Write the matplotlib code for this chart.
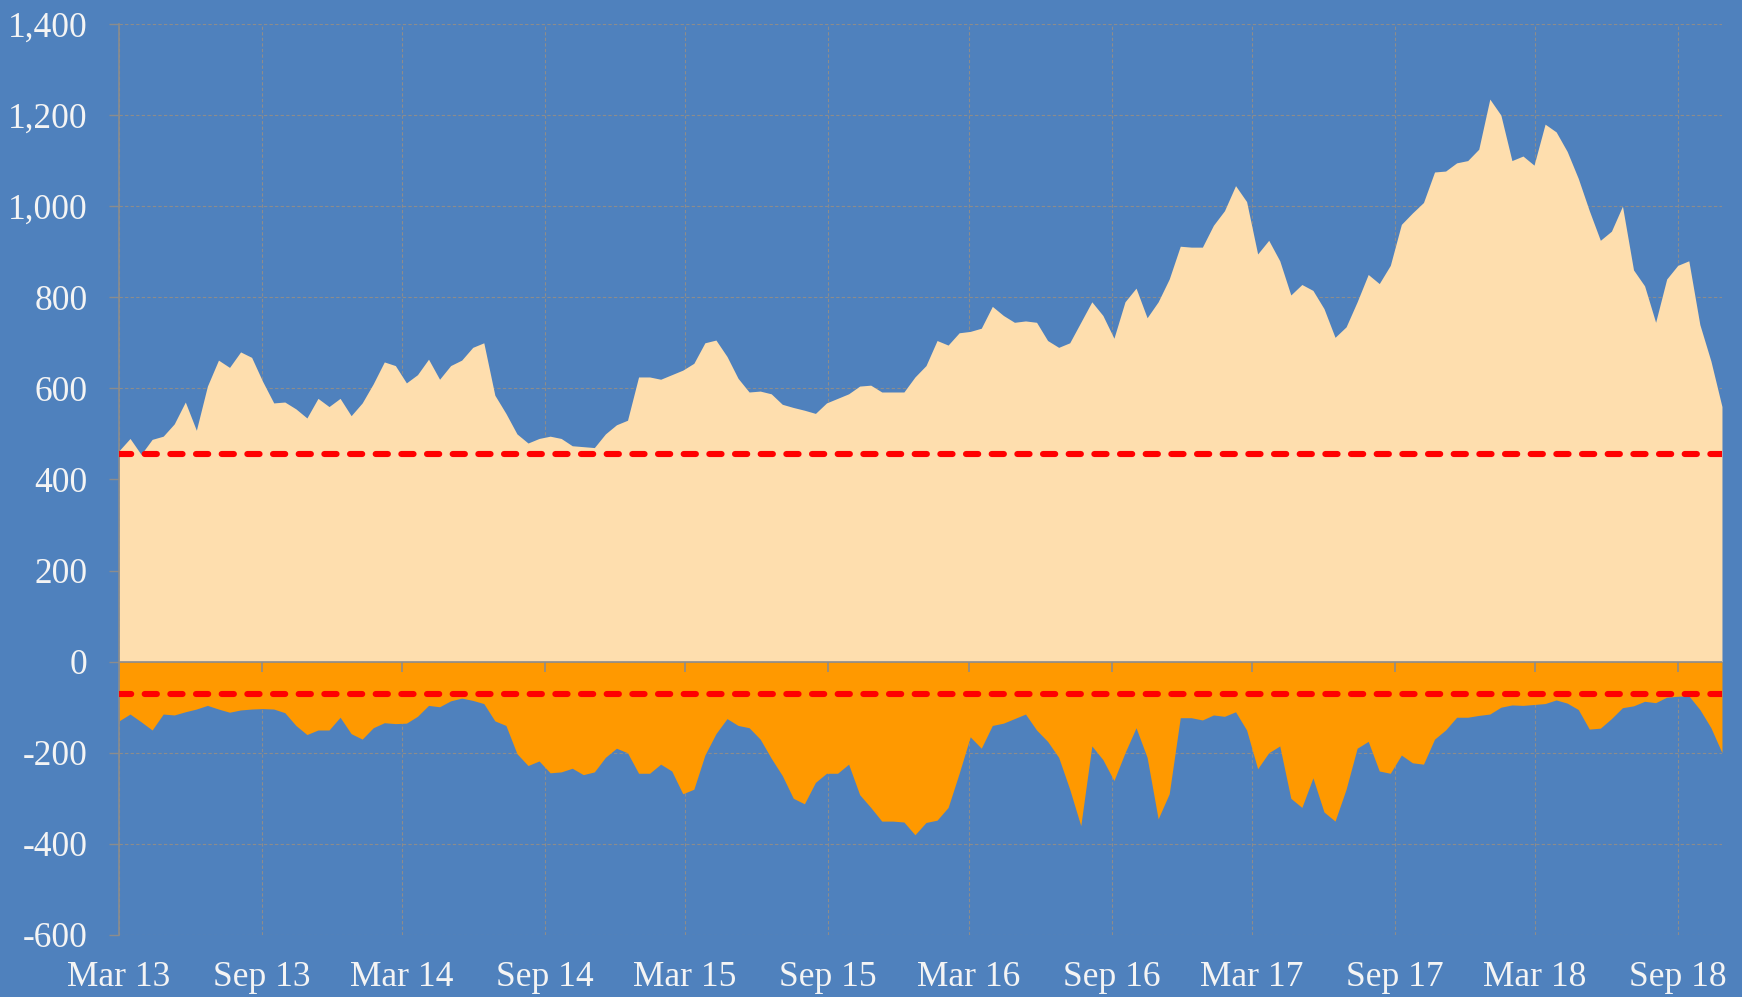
import numpy as np
import pandas as pd
import matplotlib
matplotlib.use("Agg")
import matplotlib.pyplot as plt
import matplotlib.dates as mdates
from matplotlib.ticker import FuncFormatter

# semi-monthly readings, Mar 2013 .. end Oct 2018
dates = pd.date_range("2013-03-01", "2018-10-28", periods=146)

upper = [463, 490, 455, 488, 495, 522, 570, 508, 605, 662,
         646, 680, 668, 615, 568, 570, 555, 535, 578, 560,
         578, 540, 568, 610, 658, 650, 612, 630, 664, 620,
         650, 662, 690, 700, 585, 545, 500, 480, 490, 495,
         490, 474, 472, 470, 500, 520, 530, 625, 625, 620,
         630, 640, 655, 700, 706, 670, 622, 592, 594, 588,
         565, 558, 552, 545, 568, 578, 588, 605, 607, 592,
         592, 592, 625, 650, 705, 695, 722, 725, 732, 780,
         760, 745, 748, 745, 705, 690, 700, 745, 790, 760,
         710, 790, 820, 755, 790, 840, 912, 910, 910, 958,
         990, 1045, 1010, 895, 925, 880, 805, 828, 815, 775,
         712, 735, 790, 850, 830, 870, 960, 985, 1008, 1075,
         1077, 1095, 1100, 1125, 1235, 1200, 1100, 1110, 1090, 1180,
         1163, 1120, 1061, 990, 925, 945, 1000, 860, 825, 745,
         840, 870, 880, 740, 660, 560]

lower = [-130, -115, -132, -150, -115, -117, -110, -104, -96, -104,
         -111, -106, -104, -103, -104, -112, -140, -160, -150, -150,
         -122, -158, -170, -145, -134, -136, -135, -120, -96, -99,
         -86, -80, -85, -92, -130, -140, -202, -228, -218, -244,
         -242, -234, -248, -242, -210, -190, -200, -245, -245, -225,
         -240, -290, -280, -205, -158, -125, -140, -145, -170, -212,
         -250, -300, -312, -265, -245, -245, -225, -292, -320, -350,
         -350, -352, -380, -353, -348, -320, -245, -165, -190, -140,
         -135, -125, -115, -150, -175, -210, -280, -360, -185, -215,
         -261, -200, -145, -210, -345, -290, -123, -123, -128, -117,
         -120, -110, -150, -235, -200, -185, -300, -320, -255, -330,
         -350, -280, -190, -175, -240, -245, -205, -222, -225, -170,
         -150, -122, -122, -118, -115, -100, -95, -96, -94, -92,
         -84, -91, -105, -148, -146, -125, -101, -97, -87, -90,
         -78, -76, -75, -105, -145, -200]

upper_avg = 455
lower_avg = -70

tick_dates = pd.date_range("2013-03-01", "2018-09-01", freq="6MS")
yticks = list(range(-600, 1401, 200))

bg = "#4f81bd"
peach = "#fedeae"
orange = "#ff9900"
gray = "#8c8c8c"
txt = "#f4f4f4"

plt.rcParams["font.family"] = ["Liberation Serif", "DejaVu Serif"]

fig = plt.figure(figsize=(17.42, 9.97), dpi=100, facecolor=bg)
ax = fig.add_axes([0.0683, 0.0622, 0.9202, 0.9138])
ax.set_facecolor(bg)

ax.fill_between(dates, 0, upper, color=peach, linewidth=0, zorder=2)
ax.fill_between(dates, lower, 0, color=orange, linewidth=0, zorder=2)

dash = dict(color="#ff0000", linewidth=4.4, linestyle=(0, (2.0, 2.2)),
            dash_capstyle="round", zorder=4)
ax.axhline(upper_avg, **dash)
ax.axhline(lower_avg, **dash)

ax.set_xlim(dates[0], dates[-1])
ax.set_ylim(-600, 1400)

ax.set_axisbelow(True)
ax.grid(True, color=gray, linestyle=(0, (3, 2)), linewidth=0.8)

# horizontal axis drawn through zero, with its ticks hanging below
ax.axhline(0, color=gray, linewidth=1.2, zorder=3)
px_per_unit = fig.get_figheight() * fig.dpi * 0.9138 / 2000
tick_len = 10.5 / px_per_unit
ax.vlines(tick_dates, -tick_len, 0, color=gray, linewidth=1.2, zorder=3)

ax.set_xticks(tick_dates)
ax.xaxis.set_major_formatter(mdates.DateFormatter("%b %y"))
ax.set_yticks(yticks)
ax.yaxis.set_major_formatter(FuncFormatter(lambda v, p: "{:,.0f}".format(v)))

ax.tick_params(axis="x", length=0, pad=19, labelsize=25.5, labelcolor=txt)
ax.tick_params(axis="y", length=7.5, width=1.0, color=gray, pad=15,
               labelsize=25.5, labelcolor=txt)

for s in ["top", "right", "bottom"]:
    ax.spines[s].set_visible(False)
ax.spines["left"].set_color(gray)
ax.spines["left"].set_linewidth(1.2)
ax.spines["left"].set_zorder(3)

fig.savefig("out.png", dpi=100, facecolor=bg)
